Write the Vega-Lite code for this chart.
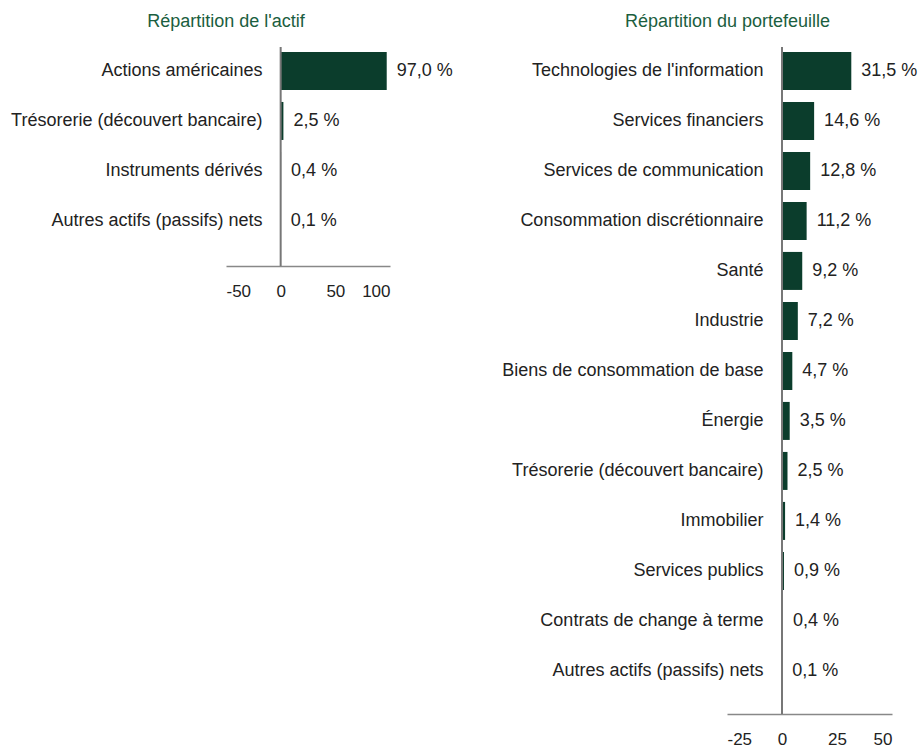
{
  "$schema": "https://vega.github.io/schema/vega-lite/v6.json",
  "padding": {"left": 10, "top": 13, "right": 5, "bottom": 5},
  "datasets": {
    "actif": [
      {"categorie": "Actions américaines", "valeur": 97.0},
      {"categorie": "Trésorerie (découvert bancaire)", "valeur": 2.5},
      {"categorie": "Instruments dérivés", "valeur": 0.4},
      {"categorie": "Autres actifs (passifs) nets", "valeur": 0.1}
    ],
    "portefeuille": [
      {"categorie": "Technologies de l'information", "valeur": 31.5},
      {"categorie": "Services financiers", "valeur": 14.6},
      {"categorie": "Services de communication", "valeur": 12.8},
      {"categorie": "Consommation discrétionnaire", "valeur": 11.2},
      {"categorie": "Santé", "valeur": 9.2},
      {"categorie": "Industrie", "valeur": 7.2},
      {"categorie": "Biens de consommation de base", "valeur": 4.7},
      {"categorie": "Énergie", "valeur": 3.5},
      {"categorie": "Trésorerie (découvert bancaire)", "valeur": 2.5},
      {"categorie": "Immobilier", "valeur": 1.4},
      {"categorie": "Services publics", "valeur": 0.9},
      {"categorie": "Contrats de change à terme", "valeur": 0.4},
      {"categorie": "Autres actifs (passifs) nets", "valeur": 0.1}
    ]
  },
  "config": {
    "font": "Liberation Sans",
    "view": {"stroke": null},
    "concat": {"spacing": 48},
    "axisX": {
      "ticks": false, "grid": false, "title": null,
      "domainColor": "#888888", "domainWidth": 1.5,
      "labelFontSize": 17, "labelColor": "#222222", "labelPadding": 17,
      "labelExpr": "replace(datum.label, '−', '-')"
    },
    "axisY": {
      "ticks": false, "grid": false, "title": null, "domain": false,
      "labelFontSize": 18, "labelColor": "#222222", "labelPadding": 19,
      "labelLimit": 500, "offset": -55
    },
    "title": {
      "fontSize": 18, "fontWeight": "normal", "color": "#1b5e40",
      "anchor": "middle", "frame": "group",
      "baseline": "alphabetic", "offset": 15
    }
  },
  "hconcat": [
    {
      "title": {"text": "Répartition de l'actif", "dx": -82},
      "width": 164,
      "height": 219,
      "layer": [
        {
          "data": {"name": "actif"},
          "mark": {"type": "bar", "color": "#0b3d2c"},
          "encoding": {
            "y": {"field": "categorie", "type": "nominal", "sort": null,
                  "scale": {"paddingInner": 0.24, "paddingOuter": 0.31, "align": 0.16}},
            "x": {"field": "valeur", "type": "quantitative",
                  "scale": {"domain": [-50, 100], "nice": false, "zero": false},
                  "axis": {"values": [-50, 0, 50, 100]}}
          }
        },
        {
          "data": {"name": "actif"},
          "transform": [{"calculate": "replace(format(datum.valeur, '.1f'), '.', ',') + ' %'", "as": "etiquette"}],
          "mark": {"type": "text", "align": "left", "dx": 10, "fontSize": 18, "color": "#222222"},
          "encoding": {
            "y": {"field": "categorie", "type": "nominal", "sort": null},
            "x": {"field": "valeur", "type": "quantitative"},
            "text": {"field": "etiquette"}
          }
        },
        {
          "data": {"values": [{}]},
          "mark": {"type": "rule", "color": "#777777", "strokeWidth": 2},
          "encoding": {"x": {"datum": 0}}
        }
      ]
    },
    {
      "title": {"text": "Répartition du portefeuille", "dx": -82},
      "width": 165,
      "height": 667,
      "layer": [
        {
          "data": {"name": "portefeuille"},
          "mark": {"type": "bar", "color": "#0b3d2c"},
          "encoding": {
            "y": {"field": "categorie", "type": "nominal", "sort": null,
                  "scale": {"paddingInner": 0.24, "paddingOuter": 0.29, "align": 0.17}},
            "x": {"field": "valeur", "type": "quantitative",
                  "scale": {"domain": [-25, 50], "nice": false, "zero": false},
                  "axis": {"values": [-25, 0, 25, 50]}}
          }
        },
        {
          "data": {"name": "portefeuille"},
          "transform": [{"calculate": "replace(format(datum.valeur, '.1f'), '.', ',') + ' %'", "as": "etiquette"}],
          "mark": {"type": "text", "align": "left", "dx": 10, "fontSize": 18, "color": "#222222"},
          "encoding": {
            "y": {"field": "categorie", "type": "nominal", "sort": null},
            "x": {"field": "valeur", "type": "quantitative"},
            "text": {"field": "etiquette"}
          }
        },
        {
          "data": {"values": [{}]},
          "mark": {"type": "rule", "color": "#777777", "strokeWidth": 2},
          "encoding": {"x": {"datum": 0}}
        }
      ]
    }
  ]
}
